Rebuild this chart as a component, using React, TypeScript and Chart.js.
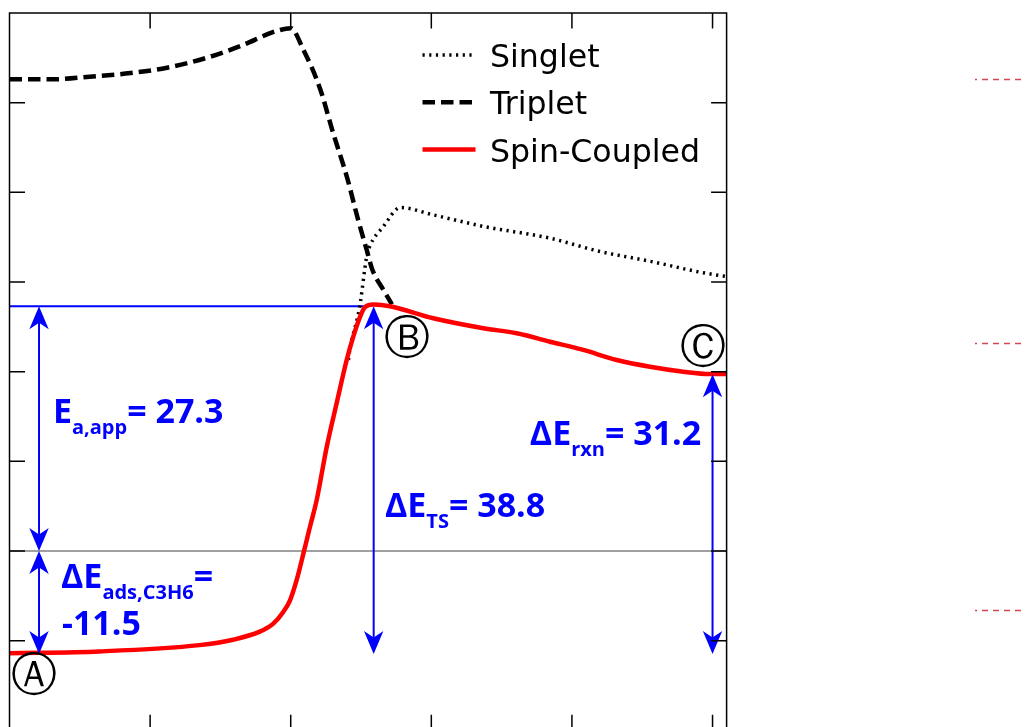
import React, { useEffect, useRef } from 'react';
import { Chart, registerables } from 'chart.js';

Chart.register(...registerables);

// ---- data (reaction coordinate, energy in kcal/mol) ----
const seriesNames = ['Singlet', 'Triplet', 'Spin-Coupled'];

const singletX = [2.41, 2.42, 2.49, 2.54, 2.56, 2.66, 2.78, 3.01, 3.37, 3.84, 4.2, 4.56, 4.91, 5.1];
const singletY = [21.3, 22.4, 27.2, 32.8, 33.9, 36.2, 38.3, 37.5, 36.2, 34.9, 33.4, 32.3, 31.1, 30.6];

const tripletX = [0, 0.29, 0.57, 0.86, 1.12, 1.38, 1.64, 1.9, 2.0, 2.09, 2.21, 2.3, 2.4, 2.48, 2.54, 2.58, 2.66, 2.72];
const tripletY = [52.6, 52.6, 52.9, 53.3, 53.9, 54.9, 56.3, 58.0, 58.3, 55.9, 51.5, 46.7, 41.7, 36.9, 33.6, 31.4, 29.1, 27.5];

const coupledX = [0, 0.64, 1.35, 1.59, 1.78, 1.876, 1.947, 1.995, 2.043, 2.09, 2.137, 2.185, 2.256, 2.327, 2.398, 2.445, 2.493, 2.528, 2.59, 2.706, 3.014, 3.37, 3.607, 3.844, 4.081, 4.318, 4.555, 4.792, 4.982, 5.1];
const coupledY = [-11.4, -11.2, -10.5, -9.9, -9.0, -8.1, -6.8, -5.5, -3.2, -0.3, 2.7, 5.7, 11.6, 16.5, 21.3, 23.9, 26.1, 27.2, 27.5, 27.3, 25.95, 24.84, 24.28, 23.34, 22.42, 21.3, 20.55, 20.0, 19.74, 19.74];

const xTickValues = [1, 2, 3, 4, 5];
const yTickValues = [-10, 0, 10, 20, 30, 40, 50];

const levelZero = 0;
const levelTS = 27.3;
const levelTSLineEnd = 2.55;

const arrowX = [0.21, 0.21, 2.59, 5.0];
const arrowFrom = [0, 0, 27.3, 19.7];
const arrowTo = [27.3, -11.5, -11.5, -11.5];

const labelX = [0.309, 0.366, 2.67, 3.70];
const labelY = [14.27, -4.13, 3.79, 11.82];
const labelMain = ['E', 'ΔE', 'ΔE', 'ΔE'];
const labelSub = ['a,app', 'ads,C3H6', 'TS', 'rxn'];
const labelTail = ['= 27.3', '=', '= 38.8', '= 31.2'];
const labelSecondLine = ['', '-11.5', '', ''];

const stateLetters = ['Ⓐ', 'Ⓑ', 'Ⓒ'];
const stateX = [0.174, 2.824, 4.93];
const stateY = [-14.2, 23.4, 22.4];

const sidePanelLevels = [52.6, 23.2, -6.6];

const BLUE = '#0000ff';

function drawArrowHead(ctx: CanvasRenderingContext2D, x: number, tipY: number, dir: number) {
  // dir = -1 pointing up, +1 pointing down
  const len = 23, half = 9.7, notch = 16.5;
  ctx.beginPath();
  ctx.moveTo(x, tipY);
  ctx.lineTo(x - half, tipY - dir * len);
  ctx.lineTo(x, tipY - dir * notch);
  ctx.lineTo(x + half, tipY - dir * len);
  ctx.closePath();
  ctx.fill();
}

const decor = {
  id: 'decor',
  beforeDatasetsDraw(chart: any) {
    const { ctx, chartArea: a, scales } = chart;
    const xs = scales.x, ys = scales.y;
    ctx.save();
    ctx.strokeStyle = '#808080';
    ctx.lineWidth = 1.5;
    ctx.beginPath();
    const yz = ys.getPixelForValue(levelZero);
    ctx.moveTo(a.left, yz);
    ctx.lineTo(a.right, yz);
    ctx.stroke();
    ctx.strokeStyle = BLUE;
    ctx.lineWidth = 2;
    ctx.beginPath();
    const yt = ys.getPixelForValue(levelTS);
    ctx.moveTo(a.left, yt);
    ctx.lineTo(xs.getPixelForValue(levelTSLineEnd), yt);
    ctx.stroke();
    ctx.restore();
  },
  afterDatasetsDraw(chart: any) {
    const { ctx, chartArea: a, scales } = chart;
    const xs = scales.x, ys = scales.y;
    ctx.save();
    ctx.strokeStyle = BLUE;
    ctx.fillStyle = BLUE;
    ctx.lineWidth = 2;
    for (let i = 0; i < arrowX.length; i++) {
      const px = xs.getPixelForValue(arrowX[i]);
      const y1 = ys.getPixelForValue(arrowFrom[i]);
      const y2 = ys.getPixelForValue(arrowTo[i]);
      ctx.beginPath();
      ctx.moveTo(px, y1 + (y2 > y1 ? 8 : -8));
      ctx.lineTo(px, y2 + (y2 > y1 ? -8 : 8));
      ctx.stroke();
      drawArrowHead(ctx, px, y1, y2 > y1 ? -1 : 1);
      drawArrowHead(ctx, px, y2, y2 > y1 ? 1 : -1);
    }
    ctx.textBaseline = 'alphabetic';
    ctx.textAlign = 'left';
    const mainFont = 'bold 34px "Open Sans"';
    const subFont = 'bold 20px "Open Sans"';
    for (let i = 0; i < labelX.length; i++) {
      let px = xs.getPixelForValue(labelX[i]);
      const py = ys.getPixelForValue(labelY[i]);
      const startX = px;
      ctx.font = mainFont;
      ctx.fillText(labelMain[i], px, py);
      px += ctx.measureText(labelMain[i]).width;
      ctx.font = subFont;
      ctx.fillText(labelSub[i], px, py + 11);
      px += ctx.measureText(labelSub[i]).width;
      ctx.font = mainFont;
      ctx.fillText(labelTail[i], px, py);
      if (labelSecondLine[i]) {
        ctx.fillText(labelSecondLine[i], startX + 1, py + 47);
      }
    }
    ctx.fillStyle = '#000';
    ctx.font = '46px "DejaVu Sans"';
    ctx.textAlign = 'center';
    ctx.textBaseline = 'middle';
    for (let i = 0; i < stateLetters.length; i++) {
      ctx.fillText(stateLetters[i], xs.getPixelForValue(stateX[i]), ys.getPixelForValue(stateY[i]));
    }
    const ds = chart.data.datasets;
    const legendOrder = [1, 2, 0];
    ctx.textAlign = 'left';
    ctx.textBaseline = 'alphabetic';
    ctx.font = '31.6px "DejaVu Sans"';
    for (let r = 0; r < 3; r++) {
      const d = ds[legendOrder[r]];
      const sy = a.top + 42 + r * 47.2;
      ctx.save();
      ctx.strokeStyle = d.borderColor;
      ctx.lineWidth = d.borderWidth;
      ctx.setLineDash(d.borderDash || []);
      ctx.beginPath();
      ctx.moveTo(a.left + 413, sy);
      ctx.lineTo(a.left + 466, sy);
      ctx.stroke();
      ctx.restore();
      ctx.fillStyle = '#000';
      ctx.fillText(d.label, a.left + 480.5, a.top + 53.7 + r * 47.4);
    }
    ctx.strokeStyle = 'rgba(205,40,50,0.85)';
    ctx.lineWidth = 1.6;
    ctx.setLineDash([6, 5]);
    ctx.lineDashOffset = 4;
    for (const lv of sidePanelLevels) {
      const py = Math.round(ys.getPixelForValue(lv)) + 0.5;
      ctx.beginPath();
      ctx.moveTo(a.right + 248.4, py);
      ctx.lineTo(a.right + 297, py);
      ctx.stroke();
    }
    ctx.restore();
  },
  afterDraw(chart: any) {
    const { ctx, chartArea: a, scales } = chart;
    const xs = scales.x, ys = scales.y;
    ctx.save();
    ctx.strokeStyle = '#000';
    ctx.lineWidth = 1.5;
    ctx.setLineDash([]);
    ctx.strokeRect(a.left, a.top, a.right - a.left, a.bottom - a.top);
    const tl = 15.5;
    ctx.beginPath();
    for (const v of xTickValues) {
      const px = xs.getPixelForValue(v);
      ctx.moveTo(px, a.top);
      ctx.lineTo(px, a.top + tl);
      ctx.moveTo(px, a.bottom);
      ctx.lineTo(px, a.bottom - tl);
    }
    for (const v of yTickValues) {
      const py = ys.getPixelForValue(v);
      ctx.moveTo(a.left, py);
      ctx.lineTo(a.left + tl, py);
      ctx.moveTo(a.right, py);
      ctx.lineTo(a.right - tl, py);
    }
    ctx.stroke();
    ctx.restore();
  },
};

export default function App() {
  const ref = useRef<HTMLCanvasElement>(null);
  useEffect(() => {
    document.body.style.margin = '0';
    const chart = new Chart(ref.current as HTMLCanvasElement, {
      type: 'line',
      data: {
        datasets: [
          {
            label: seriesNames[2],
            data: coupledX.map((x, i) => ({ x, y: coupledY[i] })),
            borderColor: '#ff0000',
            borderWidth: 4.5,
            pointRadius: 0,
            cubicInterpolationMode: 'monotone',
            fill: false,
            order: 0,
          },
          {
            label: seriesNames[0],
            data: singletX.map((x, i) => ({ x, y: singletY[i] })),
            borderColor: '#000000',
            borderWidth: 3.5,
            borderDash: [2.2, 4.5],
            pointRadius: 0,
            cubicInterpolationMode: 'monotone',
            fill: false,
            order: 1,
          },
          {
            label: seriesNames[1],
            data: tripletX.map((x, i) => ({ x, y: tripletY[i] })),
            borderColor: '#000000',
            borderWidth: 4.5,
            borderDash: [12.5, 6],
            pointRadius: 0,
            cubicInterpolationMode: 'monotone',
            fill: false,
            order: 2,
          },
        ],
      } as any,
      options: {
        responsive: false,
        animation: false,
        devicePixelRatio: 1,
        events: [],
        layout: { padding: { left: 9.5, top: 13, right: 298.4, bottom: 9.7 }, autoPadding: false },
        scales: {
          x: { type: 'linear', min: 0, max: 5.1, display: false },
          y: { type: 'linear', min: -20, max: 60, display: false },
        },
        plugins: { legend: { display: false }, tooltip: { enabled: false } },
      } as any,
      plugins: [decor],
    });
    return () => chart.destroy();
  }, []);
  return (
    <div style={{ position: 'fixed', left: 0, top: 0, width: 1025, height: 727, overflow: 'hidden', background: '#fff' }}>
      <canvas ref={ref} width={1025} height={740} style={{ display: 'block' }} />
    </div>
  );
}
